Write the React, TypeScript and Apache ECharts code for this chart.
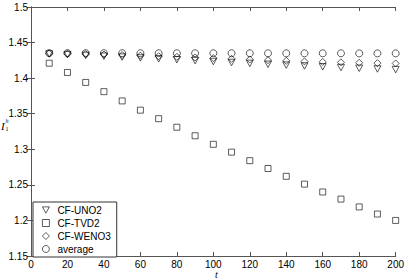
import React, { useEffect, useRef } from "react";
import * as echarts from "echarts";

const tValues = [10, 20, 30, 40, 50, 60, 70, 80, 90, 100, 110, 120, 130, 140, 150, 160, 170, 180, 190, 200];
const uno2 = [1.4340, 1.4330, 1.4320, 1.4308, 1.4296, 1.4284, 1.4272, 1.4259, 1.4246, 1.4233, 1.4220, 1.4207, 1.4195, 1.4183, 1.4171, 1.4160, 1.4149, 1.4139, 1.4129, 1.4120];
const tvd2 = [1.421, 1.408, 1.394, 1.381, 1.368, 1.355, 1.343, 1.331, 1.319, 1.307, 1.296, 1.284, 1.273, 1.262, 1.251, 1.240, 1.230, 1.219, 1.209, 1.200];
const weno3 = [1.4348, 1.4344, 1.4338, 1.4332, 1.4325, 1.4317, 1.4308, 1.4299, 1.4290, 1.4281, 1.4272, 1.4262, 1.4252, 1.4243, 1.4235, 1.4228, 1.4222, 1.4216, 1.4211, 1.4207];
const average = [1.4352, 1.4352, 1.4351, 1.4351, 1.4351, 1.4350, 1.4350, 1.4350, 1.4350, 1.4350, 1.4350, 1.4350, 1.4349, 1.4349, 1.4349, 1.4349, 1.4349, 1.4348, 1.4348, 1.4348];
const seriesNames = ["CF-UNO2", "CF-TVD2", "CF-WENO3", "average"];

const AXIS = "#555";
const FONT = "'Liberation Sans', Arial, sans-serif";
const TRI_DOWN = "path://M0,0 L10,0 L5,9 Z";

export default function App() {
  const ref = useRef<HTMLDivElement>(null);
  useEffect(() => {
    if (!ref.current) return;
    const chart = echarts.init(ref.current, undefined, { renderer: "svg" });
    const pts = (arr: number[]) => tValues.map((t, i) => [t, arr[i]]);
    const mk = (name: string, data: number[], symbol: string, size: number | number[]) => ({
      name,
      type: "scatter",
      data: pts(data),
      symbol,
      symbolSize: size,
      itemStyle: { color: "transparent", borderColor: "#000", borderWidth: 0.8 },
      emphasis: { disabled: true },
    });
    const yFmt = (v: number) => String(parseFloat(v.toFixed(2)));
    chart.setOption({
      animation: false,
      backgroundColor: "#fff",
      grid: { left: 31, right: 11, top: 7, bottom: 23 },
      xAxis: [
        {
          type: "value",
          min: 0,
          max: 200,
          interval: 20,
          position: "bottom",
          axisLine: { lineStyle: { color: AXIS, width: 1 } },
          axisTick: { inside: true, length: 4, lineStyle: { color: AXIS } },
          axisLabel: { color: "#000", fontSize: 10, fontFamily: FONT, margin: 3 },
          splitLine: { show: false },
        },
        {
          type: "value",
          min: 0,
          max: 200,
          interval: 20,
          position: "top",
          axisLine: { lineStyle: { color: AXIS, width: 1 } },
          axisTick: { inside: true, length: 4, lineStyle: { color: AXIS } },
          axisLabel: { show: false },
          splitLine: { show: false },
        },
      ],
      yAxis: [
        {
          type: "value",
          min: 1.15,
          max: 1.5,
          interval: 0.05,
          position: "left",
          axisLine: { show: true, lineStyle: { color: AXIS, width: 1 } },
          axisTick: { show: true, inside: true, length: 4, lineStyle: { color: AXIS } },
          axisLabel: { color: "#000", fontSize: 10, fontFamily: FONT, margin: 3, formatter: yFmt },
          splitLine: { show: false },
        },
        {
          type: "value",
          min: 1.15,
          max: 1.5,
          interval: 0.05,
          position: "right",
          axisLine: { show: true, lineStyle: { color: AXIS, width: 1 } },
          axisTick: { show: true, inside: true, length: 4, lineStyle: { color: AXIS } },
          axisLabel: { show: false },
          splitLine: { show: false },
        },
      ],
      legend: {
        orient: "vertical",
        left: 33,
        top: 202,
        padding: [3, 6, 3, 9],
        itemWidth: 7,
        itemHeight: 7,
        itemGap: 3,
        symbolKeepAspect: true,
        backgroundColor: "#fff",
        borderColor: "#333",
        borderWidth: 1,
        borderRadius: 0,
        selectedMode: false,
        itemStyle: { borderWidth: 0.8 },
        textStyle: { color: "#000", fontSize: 10, fontFamily: FONT, padding: [0, 0, 0, 3] },
        data: seriesNames,
      },
      series: [
        mk(seriesNames[0], uno2, TRI_DOWN, [7, 6.5]),
        mk(seriesNames[1], tvd2, "rect", 6),
        mk(seriesNames[2], weno3, "diamond", 7),
        mk(seriesNames[3], average, "circle", 7),
      ],
      graphic: [
        {
          type: "text",
          left: 215,
          top: 269,
          style: { text: "t", font: "italic 10px 'Liberation Serif', serif", fill: "#000" },
        },
        {
          type: "text",
          left: 1,
          top: 120,
          style: { text: "I", font: "italic 11px 'Liberation Serif', serif", fill: "#000" },
        },
        {
          type: "text",
          left: 5.5,
          top: 118,
          style: { text: "h", font: "italic 6px 'Liberation Serif', serif", fill: "#000" },
        },
        {
          type: "text",
          left: 5.5,
          top: 126,
          style: { text: "1", font: "6px 'Liberation Serif', serif", fill: "#000" },
        },
      ],
    });
    return () => chart.dispose();
  }, []);
  return (
    <div
      ref={ref}
      style={{ position: "fixed", left: 0, top: 0, width: 407, height: 279, background: "#fff" }}
    />
  );
}
